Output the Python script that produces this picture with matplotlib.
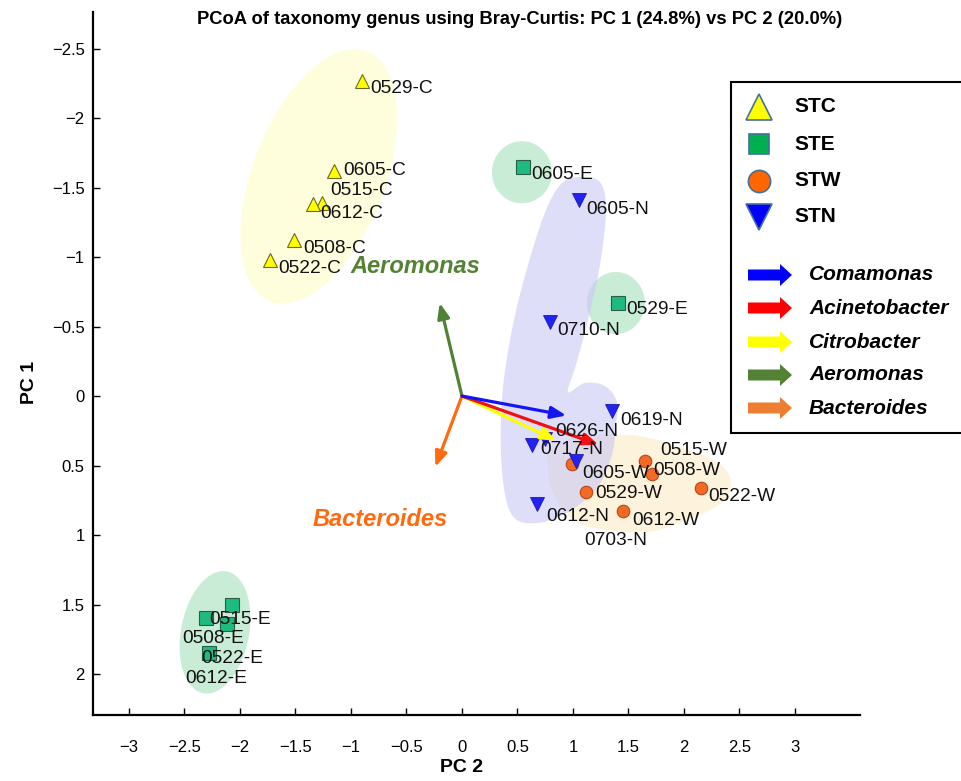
import numpy as np
import matplotlib
matplotlib.use("Agg")
import matplotlib.pyplot as plt
from matplotlib.patches import Polygon, Rectangle, FancyArrow
from matplotlib.ticker import FuncFormatter

# ---------------- data ----------------
stc_names = ['0508-C', '0515-C', '0522-C', '0529-C', '0605-C', '0612-C']
stc_pc2 = [-1.51, -1.26, -1.73, -0.90, -1.15, -1.34]
stc_pc1 = [-1.12, -1.39, -0.98, -2.27, -1.62, -1.38]

ste_names = ['0508-E', '0515-E', '0522-E', '0529-E', '0605-E', '0612-E']
ste_pc2 = [-2.31, -2.07, -2.12, 1.41, 0.55, -2.28]
ste_pc1 = [1.60, 1.50, 1.64, -0.67, -1.65, 1.85]

stw_names = ['0508-W', '0515-W', '0522-W', '0529-W', '0605-W', '0612-W']
stw_pc2 = [1.71, 1.65, 2.15, 1.12, 0.99, 1.45]
stw_pc1 = [0.56, 0.47, 0.66, 0.69, 0.49, 0.83]

stn_names = ['0605-N', '0612-N', '0619-N', '0626-N', '0703-N', '0710-N', '0717-N']
stn_pc2 = [1.05, 0.68, 1.35, 0.75, 1.03, 0.79, 0.63]
stn_pc1 = [-1.41, 0.78, 0.11, 0.31, 0.47, -0.53, 0.35]

genus_names = ['Comamonas', 'Acinetobacter', 'Citrobacter', 'Aeromonas', 'Bacteroides']
genus_pc2 = [0.94, 1.23, 0.85, -0.20, -0.24]
genus_pc1 = [0.14, 0.35, 0.32, -0.67, 0.51]

xticks = [-3, -2.5, -2, -1.5, -1, -0.5, 0, 0.5, 1, 1.5, 2, 2.5, 3]
yticks = [-2.5, -2, -1.5, -1, -0.5, 0, 0.5, 1, 1.5, 2]

# ---------------- styles / layout ----------------
FS_LABEL = 13.8
label_off = {  # pixel offsets (right, down) of each point label
    '0508-C': (9, 8), '0515-C': (8, -12), '0522-C': (8, 9), '0529-C': (8, 8),
    '0605-C': (9, 0), '0612-C': (7, 9),
    '0508-E': (-23, 20), '0515-E': (-23, 15), '0522-E': (-25, 35), '0529-E': (8, 7),
    '0605-E': (8, 8), '0612-E': (-24, 25),
    '0508-W': (1, -3), '0515-W': (15, -11), '0522-W': (8, 9), '0529-W': (9, 2),
    '0605-W': (10, 9), '0612-W': (9, 9),
    '0605-N': (8, 9), '0612-N': (9, 12), '0619-N': (8, 9), '0626-N': (10, -8),
    '0703-N': (8, 79), '0710-N': (8, 8), '0717-N': (8, 5),
}
arrow_colors = ['#1515F0', '#F21010', '#FFFF00', '#4F8236', '#FF6A10']
legend_arrow_colors = ['#0000FF', '#FF0000', '#FFFF00', '#548235', '#ED7D31']
SANS = ['Liberation Sans', 'DejaVu Sans']

W, H = 962, 781
fig = plt.figure(figsize=(W / 100, H / 100), dpi=100)
ax = fig.add_axes([93 / W, 66 / H, (860 - 93) / W, (715 - 12) / H])
ax.set_xlim(-3.324, 3.586)
ax.set_ylim(2.295, -2.763)

for s in ['top', 'right']:
    ax.spines[s].set_visible(False)
for s in ['left', 'bottom']:
    ax.spines[s].set_linewidth(1.6)
fmt = FuncFormatter(lambda v, p: ('%g' % v).replace('-', '\u2212'))
ax.set_xticks(xticks)
ax.set_yticks(yticks)
ax.xaxis.set_major_formatter(fmt)
ax.yaxis.set_major_formatter(fmt)
ax.tick_params(axis='both', direction='in', length=5, width=1)
ax.tick_params(axis='x', pad=18, labelsize=12, labelfontfamily=SANS)
ax.tick_params(axis='y', pad=6, labelsize=12, labelfontfamily=SANS)


# ---------------- hull shapes ----------------
def ellipse_pts(cx, cy, a, b, ang):
    c = ax.transData.transform((cx, cy))
    t = np.linspace(0, 2 * np.pi, 240)
    p = np.radians(ang)
    px = c[0] + a * np.cos(t) * np.cos(p) - b * np.sin(t) * np.sin(p)
    py = c[1] + a * np.cos(t) * np.sin(p) + b * np.sin(t) * np.cos(p)
    return ax.transData.inverted().transform(np.column_stack([px, py]))


def smooth_closed(pts, n=24):
    P = ax.transData.transform(np.asarray(pts))
    N = len(P)
    out = []
    t = np.linspace(0, 1, n, endpoint=False)[:, None]
    for i in range(N):
        p0, p1, p2, p3 = P[i - 1], P[i], P[(i + 1) % N], P[(i + 2) % N]
        out.append(0.5 * ((2 * p1) + (-p0 + p2) * t + (2 * p0 - 5 * p1 + 4 * p2 - p3) * t ** 2
                          + (-p0 + 3 * p1 - 3 * p2 + p3) * t ** 3))
    return ax.transData.inverted().transform(np.vstack(out))


ax.add_patch(Polygon(ellipse_pts(-1.29, -1.58, 134, 66, 68.8), closed=True,
                     fc='#FEFEDD', ec='none', zorder=1))
ax.add_patch(Polygon(ellipse_pts(-2.225, 1.70, 62, 34, 79), closed=True,
                     fc='#C8ECD6', ec='none', zorder=1))
ax.add_patch(Polygon(ellipse_pts(0.54, -1.61, 30, 31, 0), closed=True,
                     fc='#C8ECD6', ec='none', zorder=1))
ax.add_patch(Polygon(ellipse_pts(1.387, -0.669, 29, 31, 0), closed=True,
                     fc='#C8ECD6', ec='none', zorder=1))

peach = [(0.793, 0.388), (1.063, 0.295), (1.514, 0.281), (1.847, 0.338), (2.261, 0.460),
         (2.414, 0.583), (2.387, 0.727), (2.234, 0.820), (1.964, 0.914), (1.667, 0.978),
         (1.306, 0.964), (1.000, 0.892), (0.811, 0.676), (0.775, 0.482)]
ax.add_patch(Polygon(smooth_closed(peach), closed=True, fc='#FDF2DC', ec='none', zorder=1.2))

lav = [(1.063, -1.576), (1.243, -1.540), (1.297, -1.338), (1.243, -0.942), (1.135, -0.547),
       (1.027, -0.223), (0.955, -0.029), (1.108, -0.094), (1.288, -0.072), (1.396, 0.043),
       (1.387, 0.209), (1.351, 0.424), (1.216, 0.662), (0.955, 0.835), (0.676, 0.914),
       (0.450, 0.856), (0.360, 0.532), (0.360, 0.029), (0.450, -0.475), (0.595, -0.942),
       (0.757, -1.338), (0.901, -1.532)]
ax.add_patch(Polygon(smooth_closed(lav), closed=True, fc='#C8C8F5', alpha=0.6,
                     ec='none', zorder=1.3))

# ---------------- points ----------------
ax.plot(stc_pc2, stc_pc1, ls='none', marker='^', ms=9.5, mfc='#FFFF00', mec='#6B6B20',
        mew=0.8, zorder=4)
ax.plot(ste_pc2, ste_pc1, ls='none', marker='s', ms=9.5, mfc='#1DBB80', mec='#2B5E48',
        mew=0.8, zorder=4)
ax.plot(stw_pc2, stw_pc1, ls='none', marker='o', ms=9, mfc='#F46A25', mec='#B5461A',
        mew=0.8, zorder=4)
ax.plot(stn_pc2, stn_pc1, ls='none', marker='v', ms=9.5, mfc='#2222F2', mec='#1A1AB0',
        mew=0.6, zorder=4.2)

for names, xs, ys in [(stc_names, stc_pc2, stc_pc1), (ste_names, ste_pc2, ste_pc1),
                      (stw_names, stw_pc2, stw_pc1), (stn_names, stn_pc2, stn_pc1)]:
    for n, x, y in zip(names, xs, ys):
        dx, dy = label_off[n]
        ax.annotate(n, (x, y), xytext=(dx * 0.72, -dy * 0.72), textcoords='offset points',
                    ha='left', va='center', fontsize=FS_LABEL, color='#111111',
                    family=SANS, zorder=6)

# ---------------- biplot arrows ----------------
for i in [4, 3, 2, 1, 0]:
    ax.annotate('', xy=(genus_pc2[i], genus_pc1[i]), xytext=(0, 0),
                arrowprops=dict(arrowstyle='-|>,head_length=0.75,head_width=0.3',
                                color=arrow_colors[i], lw=2.3, shrinkA=0, shrinkB=0,
                                mutation_scale=12), zorder=5)

ax.text(-0.42, -0.93, 'Aeromonas', color='#548235', fontsize=17, fontweight='bold',
        fontstyle='italic', ha='center', va='center', family=SANS, zorder=6)
ax.text(-0.74, 0.885, 'Bacteroides', color='#FF6A10', fontsize=17, fontweight='bold',
        fontstyle='italic', ha='center', va='center', family=SANS, zorder=6)

# ---------------- texts ----------------
fig.text(520 / W, 1 - 19 / H,
         'PCoA of taxonomy genus using Bray-Curtis: PC 1 (24.8%) vs PC 2 (20.0%)',
         ha='center', va='center', fontsize=13.2, fontweight='bold', family=SANS)
fig.text(462 / W, 1 - 768 / H, 'PC 2', ha='center', va='center', fontsize=14,
         fontweight='bold', family=SANS)
fig.text(30 / W, 1 - 382 / H, 'PC 1', ha='center', va='center', fontsize=14,
         fontweight='bold', rotation=90, family=SANS)

# ---------------- legend (drawn in figure pixel space) ----------------
lg = fig.add_axes([0, 0, 1, 1], zorder=10)
lg.set_xlim(0, W)
lg.set_ylim(H, 0)
lg.axis('off')
lg.patch.set_visible(False)
lg.add_patch(Rectangle((731, 82), 260, 351, fc='white', ec='black', lw=1.5, clip_on=False))

grp_labels = ['STC', 'STE', 'STW', 'STN']
grp_markers = ['^', 's', 'o', 'v']
grp_colors = ['#FFFF00', '#00B050', '#FF6600', '#0000FF']
grp_sizes = [19, 15, 16, 19]
grp_y = [107, 144, 181, 217]
for lab, mk, col, sz, y in zip(grp_labels, grp_markers, grp_colors, grp_sizes, grp_y):
    lg.plot([759], [y], ls='none', marker=mk, ms=sz, mfc=col, mec='#41719C', mew=1.2,
            clip_on=False)
    lg.text(794, y, lab, ha='left', va='center', fontsize=15, fontweight='bold', family=SANS)

arr_y = [275, 308, 342, 375, 408]
for name, col, y in zip(genus_names, legend_arrow_colors, arr_y):
    lg.add_patch(FancyArrow(748, y, 44, 0, width=11, head_width=22, head_length=12,
                            length_includes_head=True, fc=col, ec='none', clip_on=False))
    lg.text(809, y, name, ha='left', va='center', fontsize=15, fontweight='bold',
            fontstyle='italic', family=SANS)

fig.savefig('out.png', dpi=100)
